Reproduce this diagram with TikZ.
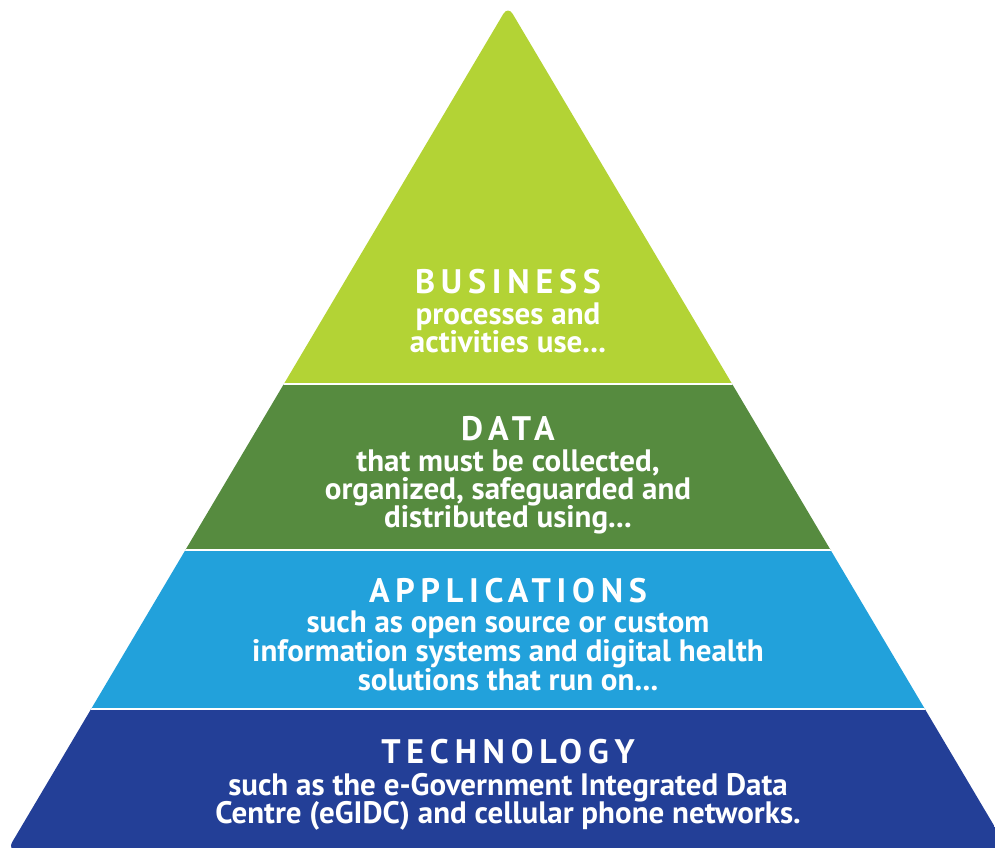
\documentclass[tikz,border=0pt]{standalone}
\usepackage{fontspec}
\setmainfont{PT Sans}
\newfontfamily\titlefont[LetterSpace=17]{PT Sans}
\definecolor{bizlime}{HTML}{B3D335}
\definecolor{datagreen}{HTML}{568B3F}
\definecolor{appblue}{HTML}{22A1DB}
\definecolor{technavy}{HTML}{233F97}
\tikzset{
  ttl/.style={anchor=base, text=white, inner sep=0pt, font=\titlefont\bfseries\fontsize{34}{34}\selectfont},
  bdy/.style={anchor=base, text=white, inner sep=0pt, font=\bfseries\fontsize{31}{31}\selectfont},
  sep/.style={white, line width=1.2pt}
}
\begin{document}
\begin{tikzpicture}[x=1pt,y=-1pt]
\useasboundingbox (0,0) rectangle (995,847);
\begin{scope}
\clip (0,0) rectangle (995,847);
\clip[rounded corners=9pt] (7.5,850) -- (508,6) -- (1008.5,850) -- cycle;
\fill[bizlime] (0,0) rectangle (995,384);
\fill[datagreen] (0,384) rectangle (995,550);
\fill[appblue] (0,550) rectangle (995,709);
\fill[technavy] (0,709) rectangle (995,850);
\coordinate (s1l) at (0,384); \coordinate (s1r) at (995,384);
\coordinate (s2l) at (0,550); \coordinate (s2r) at (995,550);
\coordinate (s3l) at (0,709); \coordinate (s3r) at (995,709);
\draw[sep] (s1l) -- (s1r);
\draw[sep] (s2l) -- (s2r);
\draw[sep] (s3l) -- (s3r);
\end{scope}
% BUSINESS
\node[ttl] (bt) at (508,293) {BUSINESS};
\node[bdy] (b1) at (508,324) {processes and};
\node[bdy] (b2) at (508,352) {activities use...};
% DATA
\node[ttl] (dt) at (508,440) {DATA};
\node[bdy] (d1) at (508,471) {that must be collected,};
\node[bdy] (d2) at (508,499) {organized, safeguarded and};
\node[bdy] (d3) at (508,527) {distributed using...};
% APPLICATIONS
\node[ttl] (at) at (508,602) {APPLICATIONS};
\node[bdy] (a1) at (508,632) {such as open source or custom};
\node[bdy] (a2) at (508,661) {information systems and digital health};
\node[bdy] (a3) at (508,690) {solutions that run on...};
% TECHNOLOGY
\node[ttl] (tt) at (508,763) {TECHNOLOGY};
\node[bdy] (t1) at (508,795) {such as the e-Government Integrated Data};
\node[bdy] (t2) at (508,823) {Centre (eGIDC) and cellular phone networks.};
\end{tikzpicture}
\end{document}
